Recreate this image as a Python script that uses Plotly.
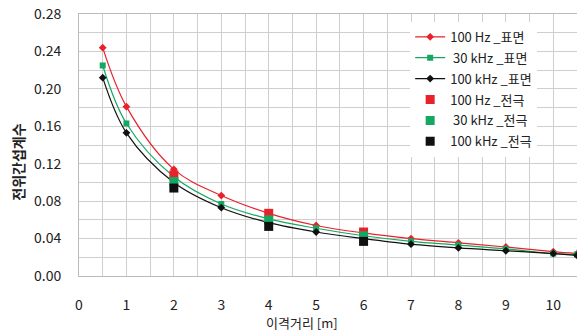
import plotly.graph_objects as go

x_surf = [0.5, 1, 2, 3, 4, 5, 6, 7, 8, 9, 10, 10.5]
hz100_surf = [0.244, 0.181, 0.114, 0.086, 0.067, 0.054, 0.046, 0.040, 0.0355, 0.031, 0.026, 0.024]
khz30_surf = [0.225, 0.163, 0.106, 0.077, 0.061, 0.051, 0.043, 0.037, 0.033, 0.029, 0.024, 0.023]
khz100_surf = [0.212, 0.153, 0.100, 0.073, 0.057, 0.047, 0.040, 0.034, 0.030, 0.027, 0.024, 0.022]

x_elec = [2, 4, 6]
hz100_elec = [0.108, 0.067, 0.047]
khz30_elec = [0.101, 0.060, 0.043]
khz100_elec = [0.094, 0.053, 0.037]

RED = "#e8222a"
GREEN = "#15a862"
BLACK = "#111111"
FONT = "Noto Sans CJK KR"

fig = go.Figure()
fig.add_trace(go.Scatter(x=x_surf, y=hz100_surf, mode="lines+markers", name="100 Hz _표면", legendgroup="a",
                         line=dict(color=RED, width=1.2, shape="spline"),
                         marker=dict(symbol="diamond", size=6, color=RED)))
fig.add_trace(go.Scatter(x=x_surf, y=khz30_surf, mode="lines+markers", name=" 30 kHz _표면", legendgroup="b",
                         line=dict(color=GREEN, width=1.2, shape="spline"),
                         marker=dict(symbol="square", size=6, color=GREEN)))
fig.add_trace(go.Scatter(x=x_surf, y=khz100_surf, mode="lines+markers", name="100 kHz _표면", legendgroup="c",
                         line=dict(color=BLACK, width=1.2, shape="spline"),
                         marker=dict(symbol="diamond", size=6, color=BLACK)))
fig.add_trace(go.Scatter(x=x_elec, y=hz100_elec, mode="markers", name="100 Hz _전극", legendgroup="d",
                         marker=dict(symbol="square", size=9, color=RED)))
fig.add_trace(go.Scatter(x=x_elec, y=khz30_elec, mode="markers", name=" 30 kHz _전극", legendgroup="e",
                         marker=dict(symbol="square", size=9, color=GREEN)))
fig.add_trace(go.Scatter(x=x_elec, y=khz100_elec, mode="markers", name="100 kHz _전극", legendgroup="f",
                         marker=dict(symbol="square", size=9, color=BLACK)))

fig.update_layout(
    width=577, height=333,
    margin=dict(l=79, r=0, t=14, b=57),
    paper_bgcolor="white", plot_bgcolor="white",
    font=dict(family=FONT, size=12, color="#222"),
    showlegend=True,
    legend=dict(x=0.665, y=0.97, xanchor="left", yanchor="top",
                bgcolor="white", font=dict(family=FONT, size=13, color="#222"),
                traceorder="grouped", tracegroupgap=1, itemwidth=30),
    xaxis=dict(range=[0, 10.5], dtick=1, tick0=0, showgrid=True, gridcolor="#cfcfcf", gridwidth=1,
               minor=dict(dtick=0.5, showgrid=True, gridcolor="#cfcfcf"),
               zeroline=False, showline=True, linecolor="#bbbbbb", mirror=True,
               ticks="outside", ticklen=16, tickcolor="rgba(0,0,0,0)",
               tickfont=dict(family=FONT, size=14, color="#222")),
    yaxis=dict(range=[0, 0.28], dtick=0.04, tick0=0, tickformat=".2f", showgrid=True,
               gridcolor="#cfcfcf", gridwidth=1,
               minor=dict(dtick=0.02, showgrid=True, gridcolor="#cfcfcf"),
               zeroline=False, showline=True, linecolor="#bbbbbb", mirror=True,
               ticks="outside", ticklen=14, tickcolor="rgba(0,0,0,0)",
               tickfont=dict(family=FONT, size=14, color="#222")),
    annotations=[
        dict(text="이격거리 [m]", xref="paper", yref="paper", x=(302 - 79) / 498, y=-0.179,
             xanchor="center", yanchor="middle", showarrow=False,
             font=dict(family=FONT, size=13, color="#222")),
        dict(text="<b>전위간섭계수</b>", xref="paper", yref="paper", x=-0.123, y=(276 - 162) / 262,
             xanchor="center", yanchor="middle", showarrow=False, textangle=-90,
             font=dict(family=FONT, size=14, color="#222")),
    ],
)

fig.write_html("out.html")
